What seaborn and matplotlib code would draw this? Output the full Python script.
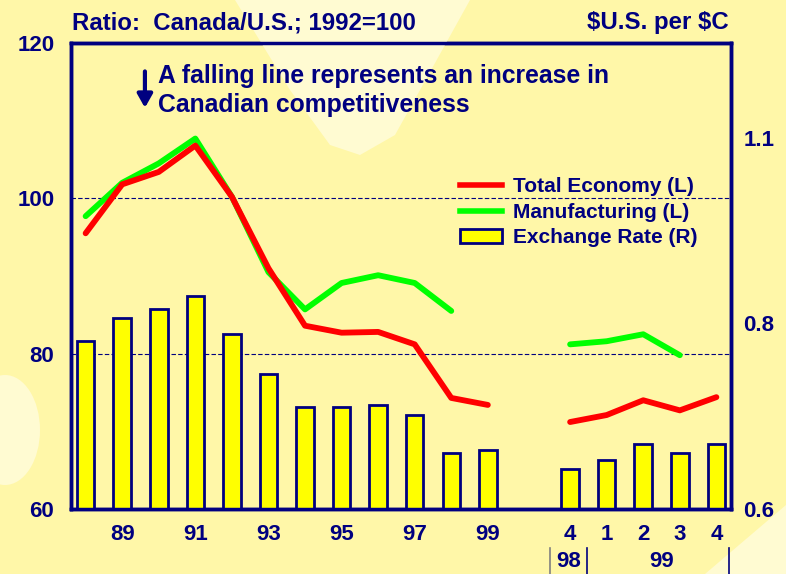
import numpy as np
import pandas as pd
import matplotlib
matplotlib.use("Agg")
import matplotlib.pyplot as plt
import seaborn as sns
from matplotlib.patches import Polygon, Ellipse, Patch
from matplotlib.lines import Line2D

# Daten
years = ["88", "89", "90", "91", "92", "93", "94", "95", "96", "97", "98", "99"]
quarters = ["4", "1", "2", "3", "4"]          # 98Q4, 99Q1..Q4
total_economy = [95.5, 101.8, 103.4, 106.8, 100.2, 91.0, 83.6, 82.7, 82.8, 81.2, 74.3, 73.4,
                 71.2, 72.1, 74.0, 72.7, 74.4]
manufacturing = [97.7, 102.0, 104.5, 107.7, 100.2, 90.5, 85.7, 89.1, 90.1, 89.1, 85.5, np.nan,
                 81.2, 81.6, 82.5, 79.8, np.nan]
exchange_rate = [0.816, 0.846, 0.858, 0.874, 0.825, 0.774, 0.731, 0.731, 0.734, 0.721, 0.672, 0.676,
                 0.651, 0.663, 0.684, 0.672, 0.684]
year_labels = ["", "89", "", "91", "", "93", "", "95", "", "97", "", "99"]
left_ticks = [60, 80, 100, 120]
right_tick_labels = ["0.6", "0.8", "1.1"]

NAVY = "#000080"
BG = "#FFF7A8"
LIGHT = "#FFFBD2"

pos = list(np.arange(len(years))) + list(13.25 + np.arange(len(quarters)))
seg = [0] * len(years) + [1] * len(quarters)
df = pd.DataFrame({"pos": pos, "seg": seg, "total": total_economy,
                   "manu": manufacturing, "fx": exchange_rate})

plt.rcParams["font.family"] = ["Liberation Sans", "DejaVu Sans"]
plt.rcParams["font.weight"] = "bold"

fig = plt.figure(figsize=(7.86, 5.74), dpi=100, facecolor=BG)

# helle Hintergrundformen
W, H = 786, 574
def px(pts):
    return [(x / W, 1 - y / H) for x, y in pts]
fig.patches.append(Polygon(px([(235, 0), (290, 90), (330, 145), (360, 155), (395, 135), (470, 0)]),
                           closed=True, transform=fig.transFigure, fc=LIGHT, ec="none", zorder=0))
fig.patches.append(Ellipse((5 / W, 1 - 430 / H), 70 / W, 110 / H, transform=fig.transFigure,
                           fc=LIGHT, ec="none", zorder=0))
fig.patches.append(Polygon(px([(705, 574), (786, 505), (786, 574)]), closed=True,
                           transform=fig.transFigure, fc=LIGHT, ec="none", zorder=0))

ax = fig.add_axes([71 / W, 1 - 509 / H, 660 / W, 466 / H])
ax2 = ax.twinx()
ax.set_zorder(ax2.get_zorder() + 1)
ax.patch.set_visible(False)
ax2.patch.set_facecolor(BG)

# Balken (rechte Achse)
sns.barplot(data=df, x="pos", y="fx", native_scale=True, width=0.48, color="#FFFF00",
            edgecolor=NAVY, linewidth=2, saturation=1, ax=ax2, zorder=3)

# Gitterlinien hinter den Balken
for v in left_ticks[1:-1]:
    ax2.plot([0, 1], [v, v], transform=ax.get_yaxis_transform(), color=NAVY,
             lw=0.8, ls=(0, (4, 2)), zorder=1)
ax2.set_ylim(0.6, 1.2)

# Linien (linke Achse)
sns.lineplot(data=df, x="pos", y="total", units="seg", estimator=None, color="#FF0000",
             lw=4.2, solid_capstyle="round", solid_joinstyle="round", ax=ax, zorder=5)
sns.lineplot(data=df, x="pos", y="manu", units="seg", estimator=None, color="#00FF00",
             lw=4.2, solid_capstyle="round", solid_joinstyle="round", ax=ax, zorder=3)

ax.set_xlim(-0.4, 17.65)
ax.set_ylim(60, 120)
ax.set_yticks(left_ticks)
ax.set_yticklabels([str(t) for t in left_ticks])
ax.set_xticks(pos)
ax.set_xticklabels(year_labels + quarters)
ax.set_xlabel("")
ax.set_ylabel("")
ax2.set_xlabel("")
ax2.set_ylabel("")
ax.tick_params(axis="both", length=0, labelsize=16, labelcolor=NAVY, pad=12)
ax.tick_params(axis="x", pad=11)
ax2.set_yticks([0.6, 0.84, 1.078])
ax2.set_yticklabels(right_tick_labels)
ax2.tick_params(axis="y", length=0, labelsize=16, labelcolor=NAVY, pad=9)
for a in (ax, ax2):
    for s in a.spines.values():
        s.set_color(NAVY)
        s.set_linewidth(2.5)

# Gruppenbeschriftung unter den Quartalen
sep_kw = dict(transform=ax.get_xaxis_transform(), clip_on=False, lw=1.2)
ax.plot([12.7, 12.7], [-0.083, -0.14], color="#808080", **sep_kw)
ax.plot([13.72, 13.72], [-0.083, -0.14], color=NAVY, **sep_kw)
ax.plot([17.6, 17.6], [-0.083, -0.14], color=NAVY, **sep_kw)
ax.text(13.2, -0.113, "98", transform=ax.get_xaxis_transform(), ha="center", va="center",
        fontsize=16, color=NAVY)
ax.text(15.75, -0.113, "99", transform=ax.get_xaxis_transform(), ha="center", va="center",
        fontsize=16, color=NAVY)

# Titel
fig.text(72 / W, 1 - 23 / H, "Ratio:  Canada/U.S.; 1992=100", ha="left", va="center",
         fontsize=17.3, color=NAVY)
fig.text(729 / W, 1 - 23 / H, r"\$U.S. per \$C", ha="right", va="center",
         fontsize=17.3, color=NAVY)

# Hinweis mit Pfeil
ax.annotate("", xy=(0.112, 0.855), xytext=(0.112, 0.945), xycoords="axes fraction",
            arrowprops=dict(arrowstyle="-|>,head_width=0.45,head_length=0.8", color=NAVY, lw=3))
ax.text(0.132, 0.93, "A falling line represents an increase in", transform=ax.transAxes,
        ha="left", va="center", fontsize=17.8, color=NAVY)
ax.text(0.132, 0.868, "Canadian competitiveness", transform=ax.transAxes,
        ha="left", va="center", fontsize=17.8, color=NAVY)

# Legende
handles = [Line2D([0], [0], color="#FF0000", lw=4),
           Line2D([0], [0], color="#00FF00", lw=4),
           Patch(facecolor="#FFFF00", edgecolor=NAVY, linewidth=2)]
labels = ["Total Economy (L)", "Manufacturing (L)", "Exchange Rate (R)"]
leg = ax.legend(handles, labels, loc="upper left", bbox_to_anchor=(0.577, 0.73),
                frameon=False, fontsize=15, handlelength=2.0, handletextpad=0.55,
                labelspacing=0.32, borderaxespad=0)
for t in leg.get_texts():
    t.set_color(NAVY)

fig.savefig("out.png", dpi=100, facecolor=BG)
